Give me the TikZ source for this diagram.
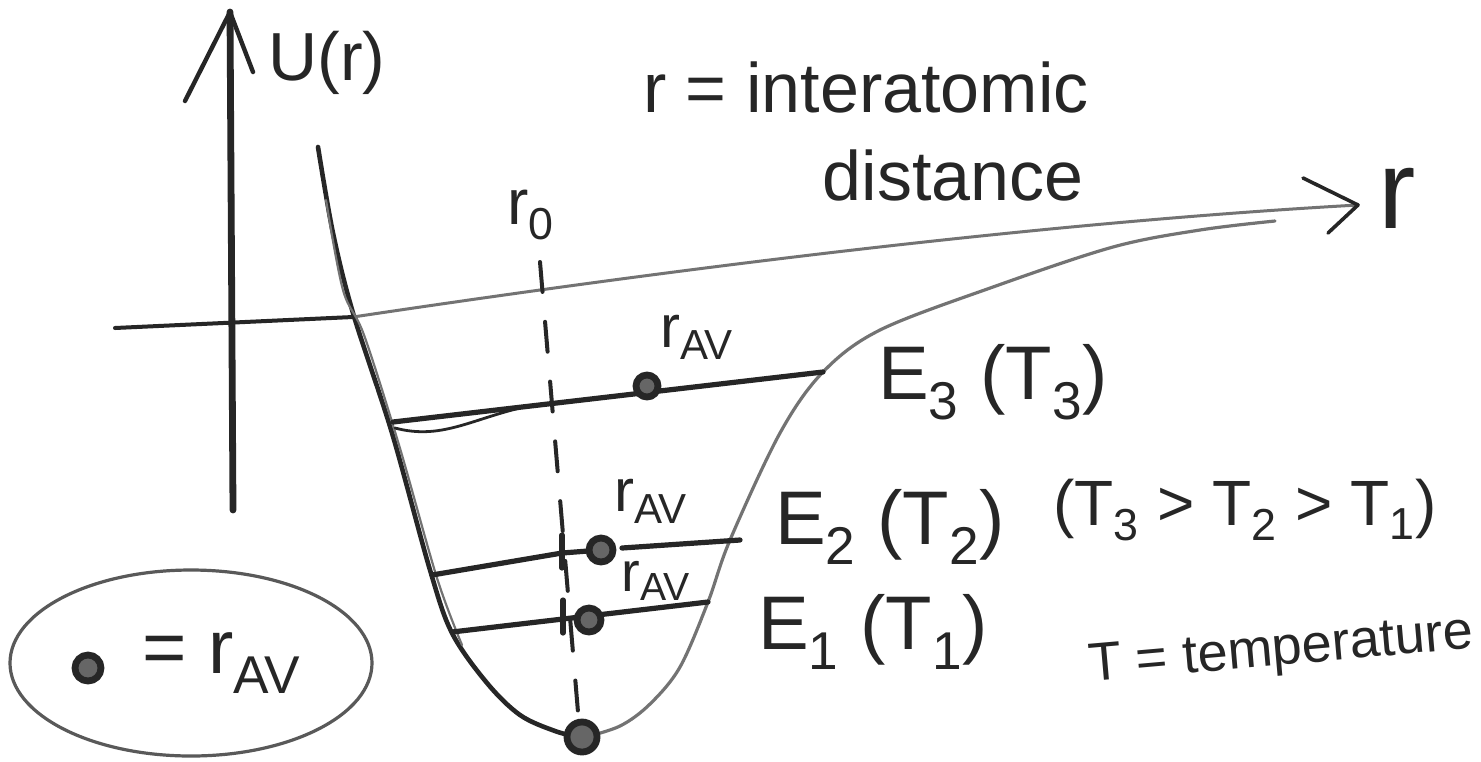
\documentclass[tikz,border=0pt]{standalone}
\usepackage{fontspec}
\setmainfont{Liberation Sans}
\usetikzlibrary{shapes.geometric}
\newcommand\myfs[1]{\fontsize{#1}{#1}\selectfont}
\begin{document}
\begin{tikzpicture}[x=0.5pt,y=-0.5pt,
  ink/.style={draw=black!85,line width=2.6pt,line cap=round,line join=round},
  pale/.style={draw=black!55,line width=1.5pt,line cap=round,line join=round},
  lbl/.style={inner sep=0pt,text=black!85},
  avdot/.style={circle,draw=black!85,line width=3.4pt,fill=black!60,inner sep=0pt,minimum size=10pt}]
\path[use as bounding box,fill=white] (0,0) rectangle (1481,761);

% axes
\coordinate (ytip) at (230,12);
\coordinate (ybot) at (233,510);
\coordinate (yarL) at (185,101);
\coordinate (yarR) at (253,72);
\coordinate (xleft) at (115,328);
\coordinate (xjoin) at (353,317);
\coordinate (xtip) at (1358,205);
\coordinate (xarU) at (1303,178);
\coordinate (xarD) at (1328,233);
\draw[ink,line width=3.4pt] (ybot) -- (ytip);
\draw[ink,line width=2.2pt] (yarL) -- (ytip) -- (yarR);
\draw[ink,line width=2pt] (xleft) -- (xjoin);
\draw[pale] (xjoin) .. controls (600,280) and (1000,225) .. (xtip);
\draw[ink,line width=1.8pt] (xarU) -- (xtip) -- (xarD);

% potential curve
\draw[ink,line width=2.3pt] plot[smooth,tension=0.55] coordinates {(318,147) (333,233) (353,313) (392,433) (430,570) (452,633) (487,683) (520,715) (555,731) (582,738)};
\draw[pale,line width=1.1pt] plot[smooth,tension=0.55] coordinates {(326,200) (343,290) (364,335) (399,445) (437,578) (462,645)};
\draw[pale,line width=1.6pt] plot[smooth,tension=0.55] coordinates {(582,738) (620,726) (650,704) (680,667) (708,602) (730,540) (780,433) (823,372) (880,330) (993,287) (1113,247) (1200,230) (1275,221)};

% r0 dashed line
\coordinate (r0a) at (540,262);
\coordinate (r0b) at (578,712);
\draw[ink,line width=2pt,dash pattern=on 15pt off 15pt] (r0a) -- (r0b);
\node[lbl,font=\myfs{32}] (r0lab) at (531,215) {r\textsubscript{0}};

% E3
\coordinate (e3L) at (393,422);
\coordinate (e3R) at (823,372);
\draw[ink] (e3L) -- (e3R);
\draw[ink,line width=1.4pt] (395,428) .. controls (440,440) and (470,420) .. (520,408);
\node[avdot,minimum size=11pt] (d3) at (647,386) {};
\node[lbl,font=\myfs{30}] (av3) at (697,337) {r\textsubscript{AV}};

% E2
\coordinate (e2L) at (432,575);
\coordinate (e2T) at (562,553);
\coordinate (e2Tu) at (562,535);
\coordinate (e2Td) at (562,568);
\coordinate (e2M) at (622,548);
\coordinate (e2R) at (740,540);
\node[avdot,minimum size=12pt] (d2) at (601,550) {};
\draw[ink] (e2L) -- (e2T);
\draw[ink] (e2Tu) -- (e2Td);
\draw[ink] (e2T) -- (d2);
\draw[ink] (e2M) -- (e2R);
\node[lbl,font=\myfs{30}] (av2) at (651,501) {r\textsubscript{AV}};

% E1
\coordinate (e1L) at (452,632);
\coordinate (e1R) at (708,602);
\coordinate (e1Tu) at (563,600);
\coordinate (e1Td) at (563,633);
\draw[ink] (e1L) -- (e1R);
\draw[ink] (e1Tu) -- (e1Td);
\node[avdot,minimum size=12pt] (d1) at (589,620) {};
\node[lbl,font=\myfs{28}] (av1) at (656,581) {r\textsubscript{AV}};

% bottom dot
\node[avdot,minimum size=15pt] (d0) at (582,737) {};

% labels
\node[lbl,font=\myfs{34}] (Ulab) at (327,63) {U(r)};
\node[lbl,font=\myfs{56}] (rlab) at (1397,198) {r};
\node[lbl,font=\myfs{35},anchor=base] (deflab) at (866,112) {r = interatomic};
\node[lbl,font=\myfs{35},anchor=base] (distlab) at (953,200) {distance};
\node[lbl,font=\myfs{38}] (E3lab) at (993,382) {E\textsubscript{3} (T\textsubscript{3})};
\node[lbl,font=\myfs{38}] (E2lab) at (890,527) {E\textsubscript{2} (T\textsubscript{2})};
\node[lbl,font=\myfs{38}] (E1lab) at (873,632) {E\textsubscript{1} (T\textsubscript{1})};
\node[lbl,font=\myfs{32}] (order) at (1245,510) {(T\textsubscript{3} > T\textsubscript{2} > T\textsubscript{1})};
\node[lbl,font=\myfs{27},rotate=5] (Tdef) at (1281,652) {T = temperature};

% legend
\node[draw=black!65,line width=1.6pt,ellipse,minimum width=181pt,minimum height=93pt,inner sep=0pt] (legend) at (191,663) {};
\node[avdot,minimum size=13pt] (ld) at (88,668) {};
\node[lbl,font=\myfs{38}] (legtxt) at (222,663) {= r\textsubscript{AV}};
\end{tikzpicture}
\end{document}
